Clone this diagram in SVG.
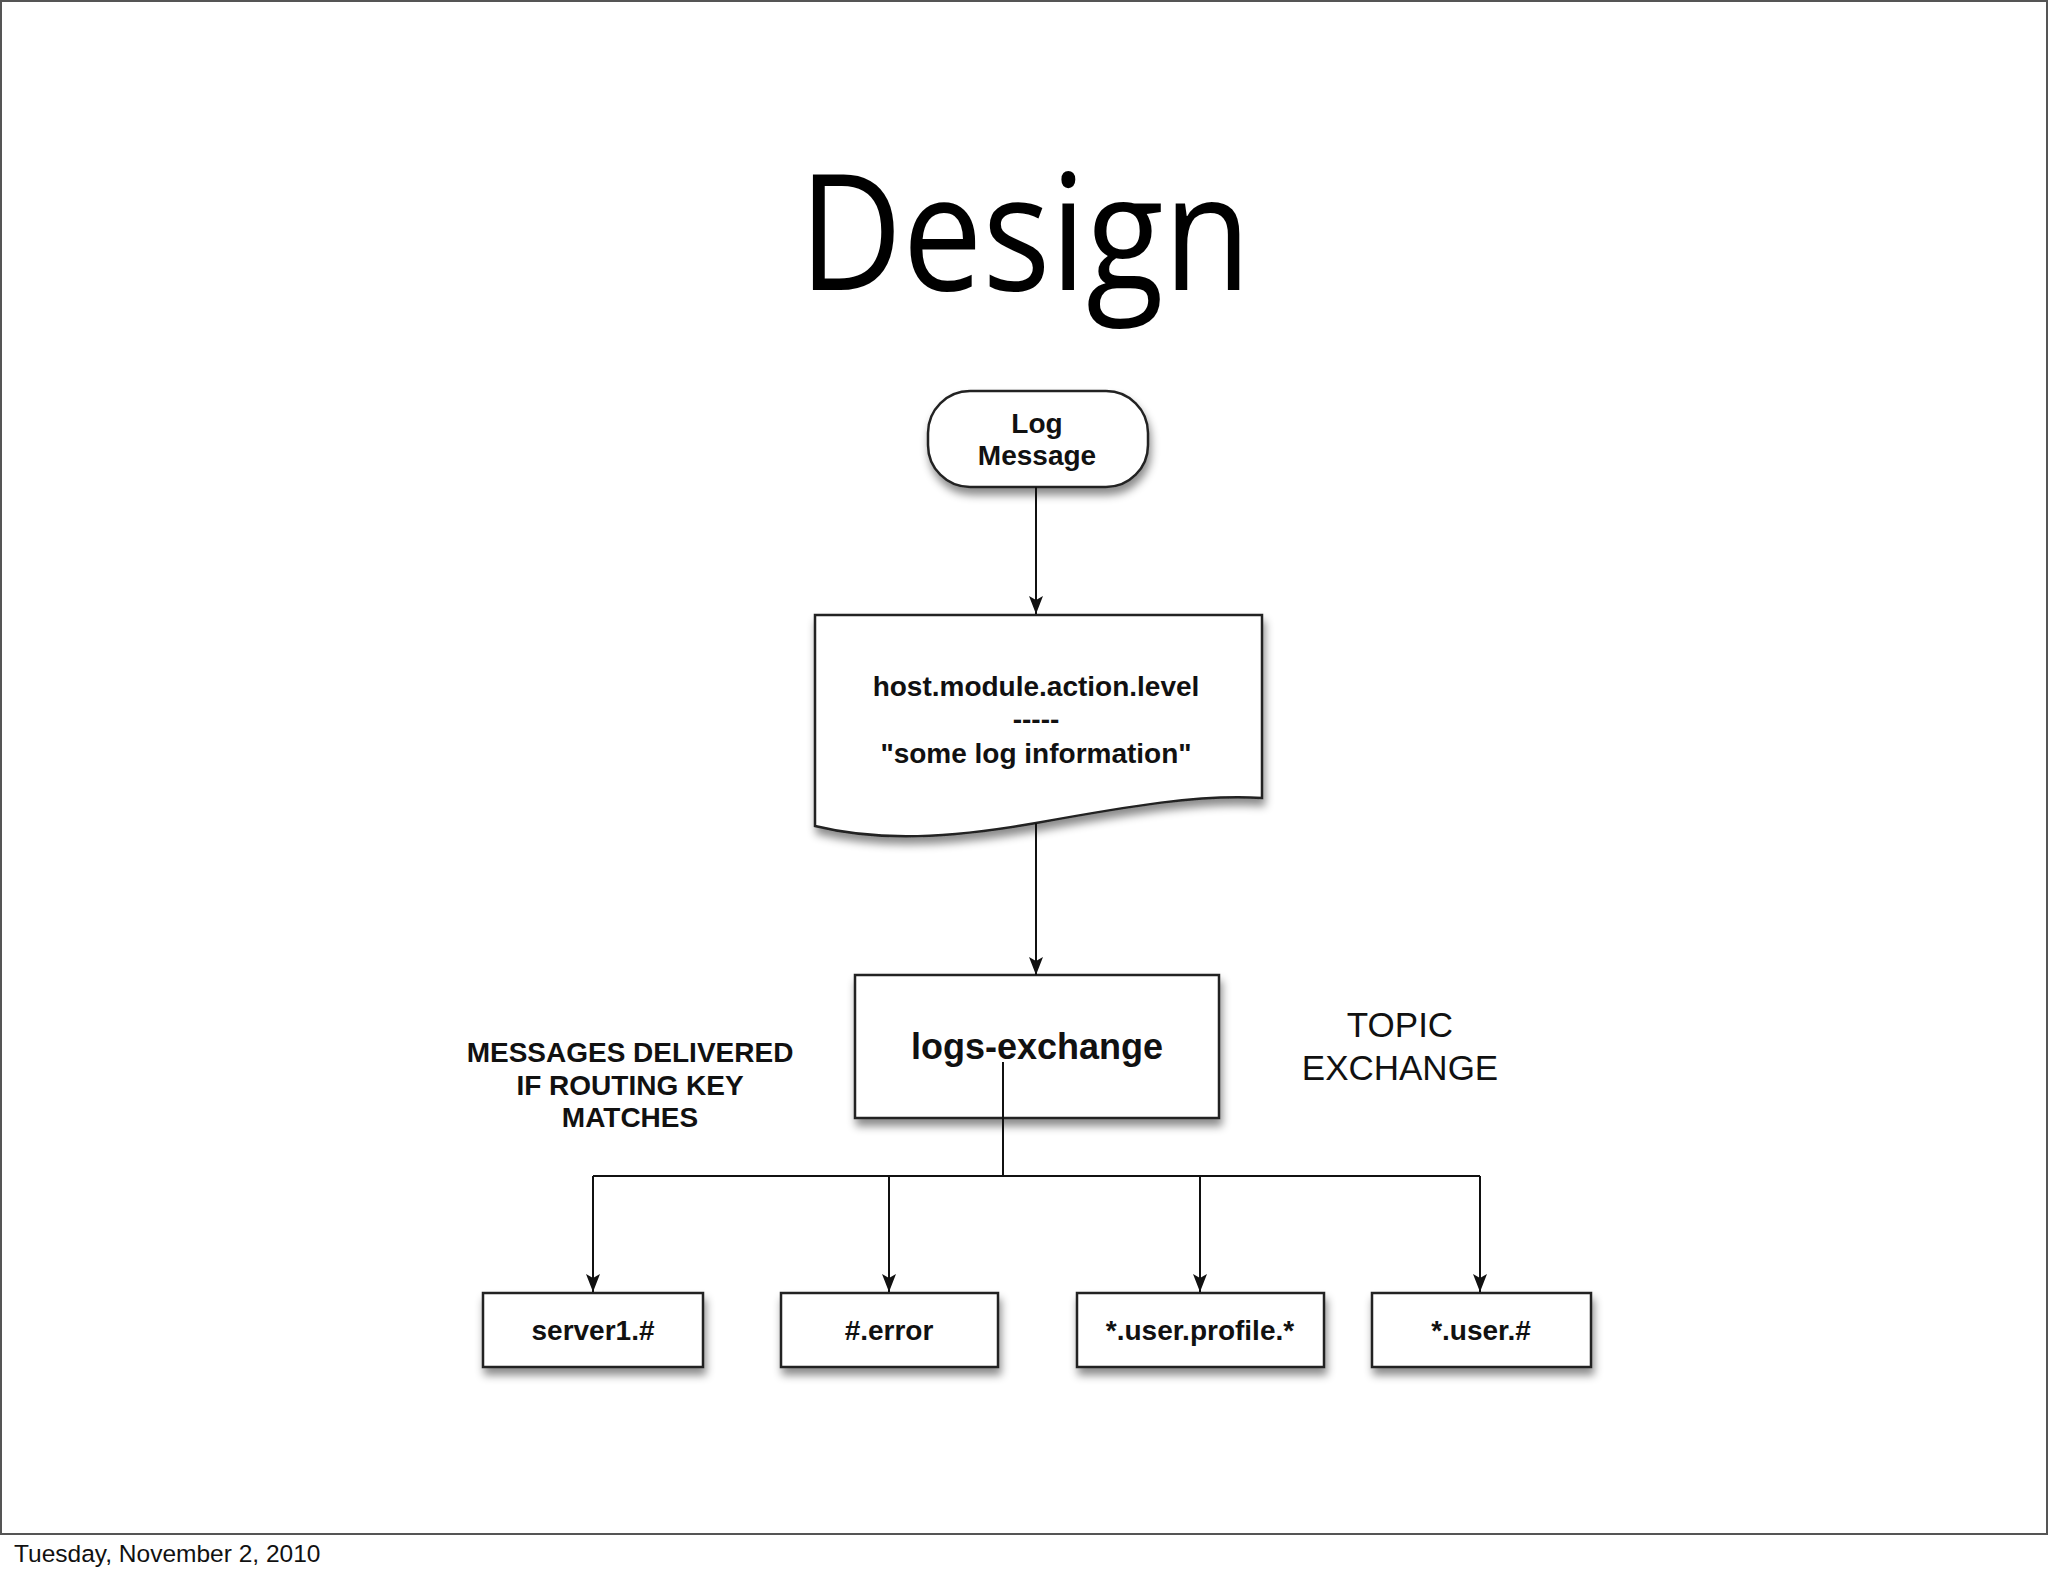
<svg xmlns="http://www.w3.org/2000/svg" width="2048" height="1576" viewBox="0 0 2048 1576">
<style>
.box{fill:#fff;stroke:#222;stroke-width:2.5;filter:url(#sh)}
.lbl{font-family:"Liberation Sans",Arial,Helvetica,sans-serif;font-weight:bold;font-size:28px;fill:#111;text-anchor:middle}
.big{font-size:36px}
.plain{font-family:"Liberation Sans",Arial,Helvetica,sans-serif;font-size:35px;fill:#111;text-anchor:middle}
.conn{fill:none;stroke:#111;stroke-width:2}
</style>
<defs>
<filter id="sh" x="-10%" y="-10%" width="130%" height="150%">
<feDropShadow dx="2" dy="7" stdDeviation="4" flood-color="#000" flood-opacity="0.45"/>
</filter>
<marker id="arr" markerUnits="userSpaceOnUse" markerWidth="19" markerHeight="15" refX="18" refY="7.5" orient="auto">
<path d="M0,0.5 L18,7.5 L0,14.5 L4,7.5 Z" fill="#111"/>
</marker>
</defs>
<rect x="0" y="0" width="2048" height="1576" fill="#fff"/>
<rect x="1" y="1" width="2046" height="1533" fill="none" stroke="#555" stroke-width="2"/>
<text x="799" y="290" font-family="'Open Sans','Noto Sans',sans-serif" font-size="162" fill="#000" textLength="452" lengthAdjust="spacingAndGlyphs">Design</text>
<text x="14" y="1562" font-family="'Liberation Sans',Arial,sans-serif" font-size="24.5" fill="#111">Tuesday, November 2, 2010</text>

<g id="log-message">
<rect class="box" x="928" y="391" width="220" height="96" rx="42" ry="42"/>
<text class="lbl" x="1037" y="433">Log</text>
<text class="lbl" x="1037" y="465">Message</text>
</g>

<g id="document">
<path class="box" d="M815,615 H1262 V798 C1200,794 1130,806 1036,823 C950,838 880,842 815,826 Z"/>
<text class="lbl" x="1036" y="696">host.module.action.level</text>
<text class="lbl" x="1036" y="729">-----</text>
<text class="lbl" x="1036" y="763">"some log information"</text>
</g>

<g id="logs-exchange">
<rect class="box" x="855" y="975" width="364" height="143"/>
<text class="lbl big" x="1037" y="1059">logs-exchange</text>
</g>

<g id="note-routing">
<text class="lbl" x="630" y="1062">MESSAGES DELIVERED</text>
<text class="lbl" x="630" y="1095">IF ROUTING KEY</text>
<text class="lbl" x="630" y="1127">MATCHES</text>
</g>

<g id="note-topic">
<text class="plain" x="1400" y="1037">TOPIC</text>
<text class="plain" x="1400" y="1080">EXCHANGE</text>
</g>

<g id="q-server1">
<rect class="box" x="483" y="1293" width="220" height="74"/>
<text class="lbl" x="593" y="1340">server1.#</text>
</g>
<g id="q-error">
<rect class="box" x="781" y="1293" width="217" height="74"/>
<text class="lbl" x="889" y="1340">#.error</text>
</g>
<g id="q-user-profile">
<rect class="box" x="1077" y="1293" width="247" height="74"/>
<text class="lbl" x="1200" y="1340">*.user.profile.*</text>
</g>
<g id="q-user">
<rect class="box" x="1372" y="1293" width="219" height="74"/>
<text class="lbl" x="1481" y="1340">*.user.#</text>
</g>

<g id="connectors">
<path class="conn" d="M1036,487 V614" marker-end="url(#arr)"/>
<path class="conn" d="M1036,823 V975" marker-end="url(#arr)"/>
<path class="conn" d="M1003,1062 V1176"/>
<path class="conn" d="M593,1176 H1480"/>
<path class="conn" d="M593,1176 V1292" marker-end="url(#arr)"/>
<path class="conn" d="M889,1176 V1292" marker-end="url(#arr)"/>
<path class="conn" d="M1200,1176 V1292" marker-end="url(#arr)"/>
<path class="conn" d="M1480,1176 V1292" marker-end="url(#arr)"/>
</g>
</svg>
